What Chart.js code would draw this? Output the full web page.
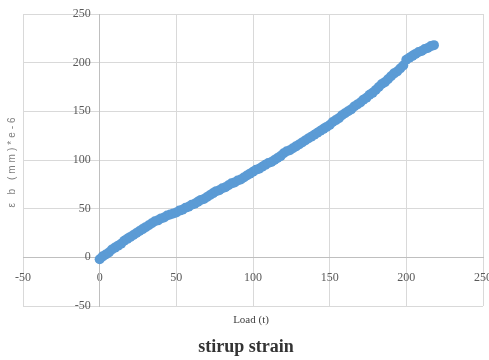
<!DOCTYPE html>
<html>
<head>
<meta charset="utf-8">
<script src="https://cdn.jsdelivr.net/npm/chart.js@4"></script>
<style>
  html, body { margin: 0; padding: 0; background: #fff; }
  #wrap { width: 489px; height: 360px; position: relative; }
</style>
</head>
<body>
<div id="wrap"><canvas id="chart"></canvas></div>
<script>
// load (t) and stirrup strain
const loadValues = [
    0, 2, 4, 6, 8, 10, 12, 14, 16, 18, 20, 22, 24, 26, 28, 30, 32, 34, 36, 38,
    40, 42, 44, 46, 48, 50, 52, 54, 56, 58, 60, 62, 64, 66, 68, 70, 72, 74, 76, 78,
    80, 82, 84, 86, 88, 90, 92, 94, 96, 98, 100, 102, 104, 106, 108, 110, 112, 114, 116, 118,
    120, 122, 124, 126, 128, 130, 132, 134, 136, 138, 140, 142, 144, 146, 148, 150, 152, 154, 156, 158,
    160, 162, 164, 166, 168, 170, 172, 174, 176, 178, 180, 182, 184, 186, 188, 190, 192, 194, 196, 198,
    200, 202, 204, 206, 208, 210, 212, 214, 216, 218
];
const strainValues = [
    -2, 1, 3, 5, 8, 10, 12, 14, 17, 19, 21, 23, 25, 27, 29, 31, 33, 35, 37, 38,
    40, 41, 43, 44, 45, 46, 48, 49, 51, 52, 54, 55, 57, 59, 60, 62, 64, 66, 68, 69,
    71, 72, 74, 76, 77, 79, 80, 82, 84, 86, 88, 90, 91, 93, 95, 97, 98, 100, 102, 104,
    107, 109, 110, 112, 114, 116, 118, 120, 122, 124, 126, 128, 130, 132, 134, 136, 139, 141, 143, 146,
    148, 150, 152, 155, 157, 159, 162, 164, 167, 169, 172, 175, 178, 180, 183, 186, 189, 191, 194, 197,
    203, 205, 207, 209, 211, 212, 214, 215, 217, 218
];
const axisMin = -50;
const axisMax = 250;
const axisStep = 50;

const chartTitle = 'stirup strain';
const xTitle = 'Load (t)';
const yTitle = 'ε b (mm)*e-6';

const points = loadValues.map((x, i) => ({ x: x, y: strainValues[i] }));

// titles drawn by hand so the axes can sit at zero
const titlePlugin = {
    id: 'titles',
    afterDraw(chart) {
        const ctx = chart.ctx;
        ctx.save();
        ctx.textAlign = 'center';
        ctx.textBaseline = 'middle';

        ctx.fillStyle = '#404040';
        ctx.font = '11px "Liberation Serif"';
        ctx.fillText(xTitle, 251, 320);

        ctx.fillStyle = '#333';
        ctx.font = 'bold 18px "Liberation Serif"';
        ctx.fillText(chartTitle, 246, 347);

        ctx.translate(12, 161);
        ctx.rotate(-Math.PI / 2);
        ctx.fillStyle = '#7f7f7f';
        ctx.font = '10px "Liberation Sans"';
        ctx.letterSpacing = '3px';
        ctx.fillText(yTitle, 0, 0);
        ctx.restore();
    }
};

const tickFont = { family: 'Liberation Serif', size: 12 };

new Chart(document.getElementById('chart'), {
    type: 'scatter',
    data: {
        datasets: [{
            data: points,
            backgroundColor: '#5b9bd5',
            borderWidth: 0,
            pointRadius: 5,
            pointHoverRadius: 5
        }]
    },
    options: {
        responsive: true,
        maintainAspectRatio: false,
        animation: false,
        events: [],
        layout: { padding: { left: 23, top: 14, right: 6, bottom: 54 } },
        plugins: {
            legend: { display: false },
            tooltip: { enabled: false }
        },
        scales: {
            x: {
                type: 'linear',
                position: { y: 0 },
                min: axisMin,
                max: axisMax,
                grid: { color: '#d9d9d9', tickLength: 8 },
                border: { color: '#bfbfbf' },
                ticks: { stepSize: axisStep, color: '#595959', font: tickFont, padding: 5 },
                // let the last label run off the edge like the original
                afterFit(scale) {
                    scale.paddingLeft = 0;
                    scale.paddingRight = 0;
                }
            },
            y: {
                type: 'linear',
                position: { x: 0 },
                min: axisMin,
                max: axisMax,
                grid: { color: '#d9d9d9', tickLength: 8 },
                border: { color: '#bfbfbf' },
                ticks: {
                    stepSize: axisStep,
                    color: '#595959',
                    font: tickFont,
                    // centred axes put labels flush on the line, so pad with spaces
                    callback: v => v + '   '
                }
            }
        }
    },
    plugins: [titlePlugin]
});
</script>
</body>
</html>
